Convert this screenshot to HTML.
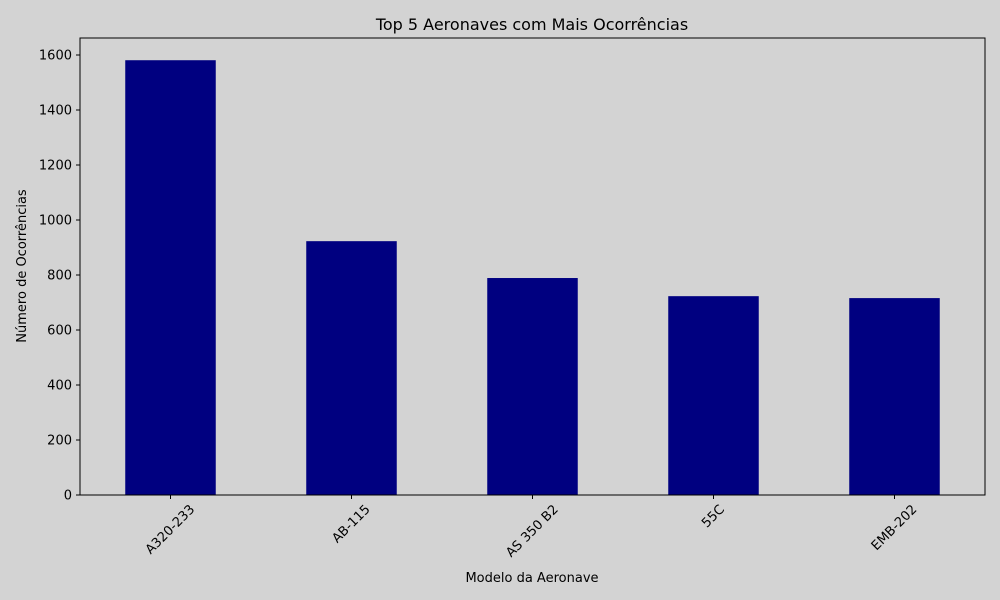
<!DOCTYPE html>
<html><head><meta charset="utf-8"><style>
body{margin:0;background:#d3d3d3;}
svg{display:block;font-family:"DejaVu Sans","Liberation Sans",sans-serif;}
</style></head><body>
<svg id="chart" width="1000" height="600" viewBox="0 0 1000 600">
<rect width="1000" height="600" fill="#d3d3d3"/>
<text x="532" y="30" text-anchor="middle" font-size="16">Top 5 Aeronaves com Mais Ocorrências</text>
<text x="532" y="582" text-anchor="middle" font-size="13">Modelo da Aeronave</text>
<text transform="translate(26,266) rotate(-90)" text-anchor="middle" font-size="13">Número de Ocorrências</text>
<g id="marks"></g>
<rect x="80" y="38" width="905" height="457" fill="none" stroke="#000" stroke-width="1"/>
</svg>
<script>
const categories = ["A320-233","AB-115","AS 350 B2","55C","EMB-202"];
const values = [1581, 923, 789, 723, 716];
const yTicks = [0,200,400,600,800,1000,1200,1400,1600];
const plotLeft=80,plotRight=985,plotTop=38,plotBottom=495,yMax=1661.8;
const yScale=v=>plotBottom-(v/yMax)*(plotBottom-plotTop);
const step=(plotRight-plotLeft)/categories.length;
const xScale=i=>plotLeft+step*(i+0.5);
const NS="http://www.w3.org/2000/svg";
const g=document.getElementById("marks");
function mk(t,a){const e=document.createElementNS(NS,t);for(const k in a)e.setAttribute(k,a[k]);g.appendChild(e);return e;}
yTicks.forEach(t=>{
  const l=mk("line",{x1:plotLeft-4,x2:plotLeft,y1:yScale(t),y2:yScale(t),stroke:"#000"});
  
  
  const tx=mk("text",{x:plotLeft-8,y:yScale(t)+4.5,"text-anchor":"end","font-size":"13"});
  tx.textContent=t;
  
  
});
categories.forEach((c,i)=>{
  const w=step*0.5;
  const b=mk("rect",{x:xScale(i)-w/2,y:yScale(values[i]),width:w,height:plotBottom-yScale(values[i]),fill:"#000080"});
  
  
  const l=mk("line",{x1:xScale(i),x2:xScale(i),y1:plotBottom,y2:plotBottom+4,stroke:"#000"});
  
  
  const tx=mk("text",{"text-anchor":"middle","dominant-baseline":"central","font-size":"13"});
  tx.textContent=c;
  
  
  const L=tx.getComputedTextLength();
  const bh=(L+13)*0.7071;
  tx.setAttribute("transform",`translate(${xScale(i)},${plotBottom+8+bh/2}) rotate(-45)`);
});
</script>
</body></html>
